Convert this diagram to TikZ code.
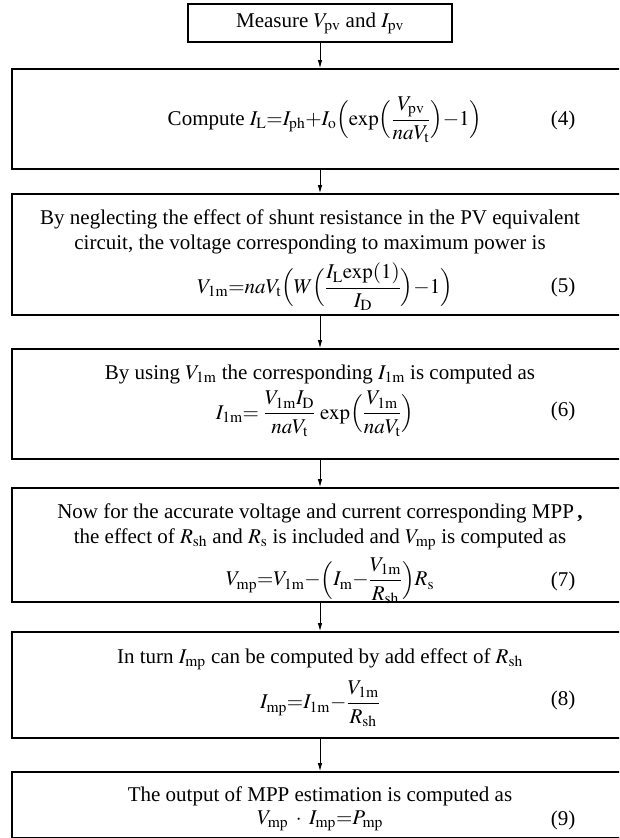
\documentclass[tikz,border=0pt]{standalone}
\usepackage{amsmath}
\usepackage{mathptmx}
\usepackage{fontspec}
\setmainfont{Liberation Serif}
\usetikzlibrary{arrows.meta}
\newcommand{\rmsub}[1]{\mathrm{#1}}
\begin{document}
\begin{tikzpicture}[x=1pt,y=-1pt,
  box/.style={draw, line width=1.8pt, inner sep=0pt, minimum width=616pt},
  flow/.style={-{Latex[length=8pt,width=4.5pt]}, line width=0.9pt},
  txt/.style={inner sep=0pt, align=center, font=\fontsize{21}{24.5}\selectfont},
  eqn/.style={inner sep=0pt, font=\fontsize{21}{24}\selectfont}]
\useasboundingbox (0,0) rectangle (619,838);
\clip (0,0) rectangle (619,838);
% boxes
\node[box, minimum width=264pt, minimum height=38pt] (b1) at (320,23) {};
\node[box, minimum height=100pt] (b2) at (320,119) {};
\node[box, minimum height=121pt] (b3) at (320,254.5) {};
\node[box, minimum height=110pt] (b4) at (320,404) {};
\node[box, minimum height=114pt] (b5) at (320,545) {};
\node[box, minimum height=106pt] (b6) at (320,685) {};
\node[box, minimum height=66pt] (b7) at (320,805) {};
% connectors
\draw[flow] (b1.south) -- (b2.north);
\draw[flow] (b2.south) -- (b3.north);
\draw[flow] (b3.south) -- (b4.north);
\draw[flow] (b4.south) -- (b5.north);
\draw[flow] (b5.south) -- (b6.north);
\draw[flow] (b6.south) -- (b7.north);
% box 1
\node[txt] (t1) at (320,23) {Measure $V_{\rmsub{pv}}$ and $I_{\rmsub{pv}}$};
% box 2
\node[txt] (t2) at (325,120) {Compute $I_{\rmsub{L}}{=}I_{\rmsub{ph}}{+}I_{\rmsub{o}}\Bigl(\exp\Bigl(\dfrac{V_{\rmsub{pv}}}{naV_{\rmsub{t}}}\Bigr){-}1\Bigr)$};
\node[eqn] (n4) at (563,120) {(4)};
% box 3
\node[txt] (t3) at (310,232) {By neglecting the effect of shunt resistance in the PV equivalent\\circuit, the voltage corresponding to maximum power is};
\node[txt] (f5) at (325,287) {$V_{\rmsub{1m}}{=}naV_{\rmsub{t}}\Bigl(W\Bigl(\dfrac{I_{\rmsub{L}}\mathrm{exp}(1)}{I_{\rmsub{D}}}\Bigr){-}1\Bigr)$};
\node[eqn] (n5) at (563,287) {(5)};
% box 4
\node[txt] (t4) at (320,374) {By using $V_{\rmsub{1m}}$ the corresponding $I_{\rmsub{1m}}$ is computed as};
\node[txt] (f6) at (315,414) {$I_{\rmsub{1m}}{=}\;\dfrac{V_{\rmsub{1m}}I_{\rmsub{D}}}{naV_{\rmsub{t}}}\,\exp\Bigl(\dfrac{V_{\rmsub{1m}}}{naV_{\rmsub{t}}}\Bigr)$};
\node[eqn] (n6) at (563,411) {(6)};
% box 5
\node[txt] (t5) at (320,527) {Now for the accurate voltage and current corresponding MPP\,\textbf{,}\\the effect of $R_{\rmsub{sh}}$ and $R_{\rmsub{s}}$ is included and $V_{\rmsub{mp}}$ is computed as};
\node[txt] (f7) at (330,581) {$V_{\rmsub{mp}}{=}V_{\rmsub{1m}}{-}\Bigl(I_{\rmsub{m}}{-}\dfrac{V_{\rmsub{1m}}}{R_{\rmsub{sh}}}\Bigr)R_{\rmsub{s}}$};
\node[eqn] (n7) at (563,581) {(7)};
% box 6
\node[txt] (t6) at (320,659) {In turn $I_{\rmsub{mp}}$ can be computed by add effect of $R_{\rmsub{sh}}$};
\node[txt] (f8) at (320,704) {$I_{\rmsub{mp}}{=}I_{\rmsub{1m}}{-}\dfrac{V_{\rmsub{1m}}}{R_{\rmsub{sh}}}$};
\node[eqn] (n8) at (563,700) {(8)};
% box 7
\node[txt] (t7) at (320,796) {The output of MPP estimation is computed as};
\node[txt] (f9) at (320,821) {$V_{\rmsub{mp}}\;\boldsymbol{\cdot}\;I_{\rmsub{mp}}{=}P_{\rmsub{mp}}$};
\node[eqn] (n9) at (563,820) {(9)};
\end{tikzpicture}
\end{document}
